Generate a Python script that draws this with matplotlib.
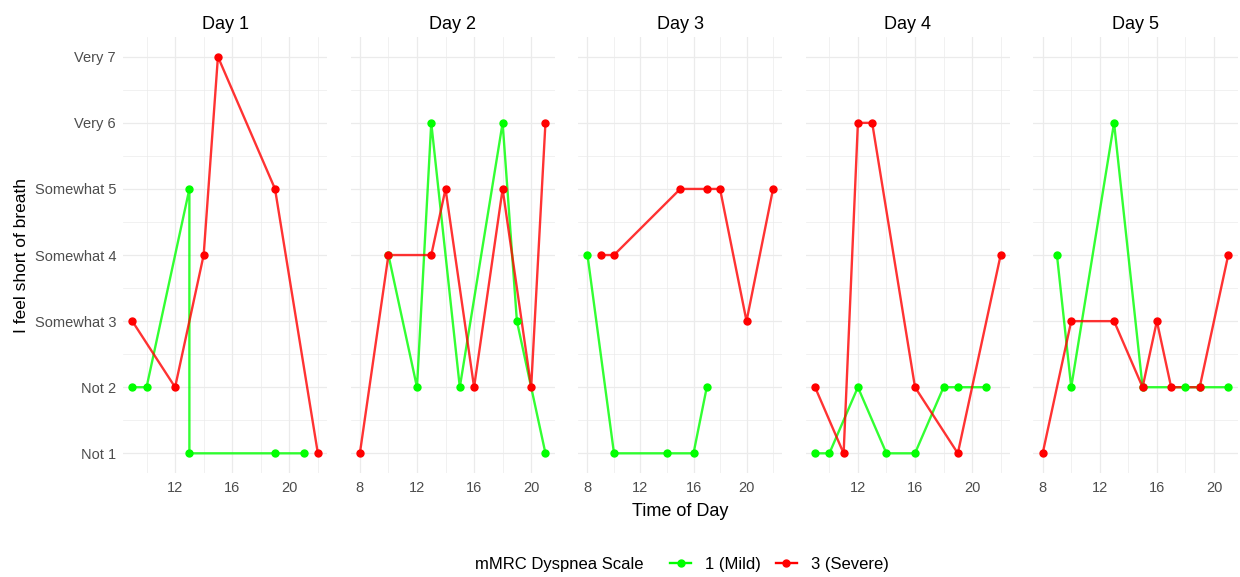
import matplotlib.pyplot as plt
from matplotlib.lines import Line2D

plt.rcParams['font.family'] = ['Liberation Sans', 'DejaVu Sans']

days = ["Day 1", "Day 2", "Day 3", "Day 4", "Day 5"]
y_labels = ["Not 1", "Not 2", "Somewhat 3", "Somewhat 4", "Somewhat 5", "Very 6", "Very 7"]

# mild group (green)
mild_hours = [
    [9, 10, 13, 13, 19, 21],
    [10, 12, 13, 15, 18, 19, 21],
    [8, 10, 14, 16, 17],
    [9, 10, 12, 14, 16, 18, 19, 21],
    [9, 10, 13, 15, 18, 19, 21],
]
mild_scores = [
    [2, 2, 5, 1, 1, 1],
    [4, 2, 6, 2, 6, 3, 1],
    [4, 1, 1, 1, 2],
    [1, 1, 2, 1, 1, 2, 2, 2],
    [4, 2, 6, 2, 2, 2, 2],
]

# severe group (red)
severe_hours = [
    [9, 12, 14, 15, 19, 22],
    [8, 10, 13, 14, 16, 18, 20, 21],
    [9, 10, 15, 17, 18, 20, 22],
    [9, 11, 12, 13, 16, 19, 22],
    [8, 10, 13, 15, 16, 17, 19, 21],
]
severe_scores = [
    [3, 2, 4, 7, 5, 1],
    [1, 4, 4, 5, 2, 5, 2, 6],
    [4, 4, 5, 5, 5, 3, 5],
    [2, 1, 6, 6, 2, 1, 4],
    [1, 3, 3, 2, 3, 2, 2, 4],
]

green = "#00FF00"
red = "#FF0000"
grid_col = "#EBEBEB"
tick_col = "#4D4D4D"

fig, axes = plt.subplots(1, 5, figsize=(12.4, 5.77), dpi=100, sharey=True)
fig.subplots_adjust(left=0.0992, right=0.998, top=0.936, bottom=0.180, wspace=0.115)

for i, ax in enumerate(axes):
    for hrs, sc, col in [(mild_hours[i], mild_scores[i], green),
                         (severe_hours[i], severe_scores[i], red)]:
        ax.plot(hrs, sc, color=col, lw=1.7, alpha=0.8, zorder=3)
        ax.plot(hrs, sc, 'o', color=col, ms=5, zorder=4)

    ax.set_xticks([8, 12, 16, 20])
    ax.set_xticks([10, 14, 18, 22], minor=True)
    ax.set_yticks(range(1, 8))
    ax.set_yticks([1.5, 2.5, 3.5, 4.5, 5.5, 6.5], minor=True)
    ax.set_yticklabels(y_labels)

    # free x scale per day, 5% expansion like ggplot
    allh = mild_hours[i] + severe_hours[i]
    lo, hi = min(allh), max(allh)
    pad = (hi - lo) * 0.05
    ax.set_xlim(lo - pad, hi + pad)
    ax.set_ylim(0.7, 7.3)

    ax.grid(which='major', color=grid_col, lw=0.9)
    ax.grid(which='minor', color=grid_col, lw=0.5)
    ax.set_axisbelow(True)
    for s in ax.spines.values():
        s.set_visible(False)
    ax.tick_params(which='both', length=0, labelsize=10.5, labelcolor=tick_col)
    ax.tick_params(axis='x', pad=6)
    ax.tick_params(axis='y', pad=5)
    ax.set_title(days[i], fontsize=13, pad=6)

fig.text(0.5485, 0.113, "Time of Day", ha='center', va='center', fontsize=13)
fig.text(0.017, 0.558, "I feel short of breath", rotation=90, ha='center', va='center', fontsize=12.5)

# legend
fig.text(0.383, 0.022, "mMRC Dyspnea Scale", ha='left', va='center', fontsize=12)
handles = [Line2D([], [], color=green, lw=1.7, marker='o', ms=5),
           Line2D([], [], color=red, lw=1.7, marker='o', ms=5)]
fig.legend(handles, ["1 (Mild)", "3 (Severe)"], loc='center left',
           bbox_to_anchor=(0.528, 0.022), ncol=2, frameon=False, fontsize=12,
           handlelength=1.3, handletextpad=0.8, columnspacing=0.9)

fig.savefig("out.png", dpi=100)
